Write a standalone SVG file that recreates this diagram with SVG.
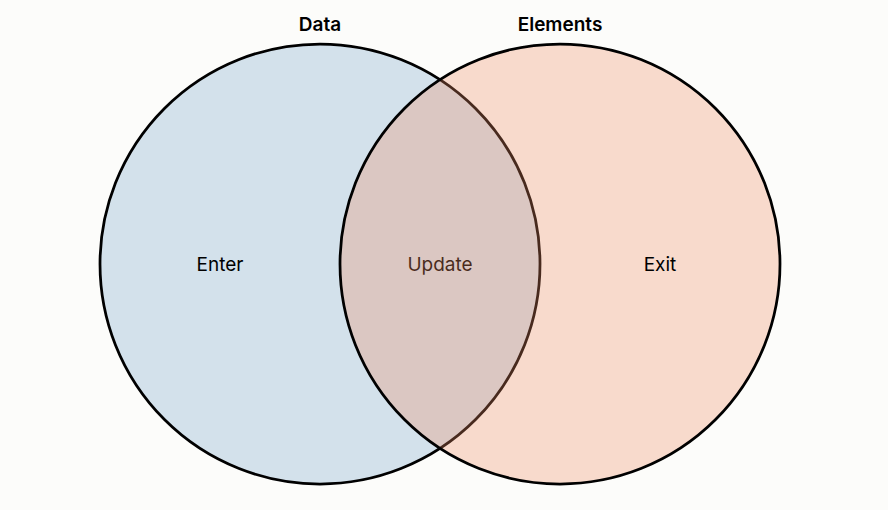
<svg xmlns="http://www.w3.org/2000/svg" width="888" height="510" viewBox="0 0 888 510">
<style>
.c{stroke:#000;stroke-width:2.75}
.t{font-family:Inter,"Liberation Sans",sans-serif;font-size:19px;text-anchor:middle;fill:#000}
.h{font-weight:600}
</style>
<rect width="888" height="510" fill="#fcfcfa"/>
<g id="data">
<circle class="c" cx="320" cy="264" r="220" fill="#4682b4" fill-opacity="0.22"/>
<text class="t h" x="320" y="31">Data</text>
</g>
<g id="enter"><text class="t" x="220" y="271">Enter</text></g>
<g id="update"><text class="t" x="440" y="271">Update</text></g>
<g id="elements">
<circle class="c" cx="560" cy="264" r="220" fill="#ef8a62" fill-opacity="0.3"/>
<text class="t h" x="560" y="31">Elements</text>
</g>
<g id="exit"><text class="t" x="660" y="271">Exit</text></g>
<g id="connectors"/>
</svg>
